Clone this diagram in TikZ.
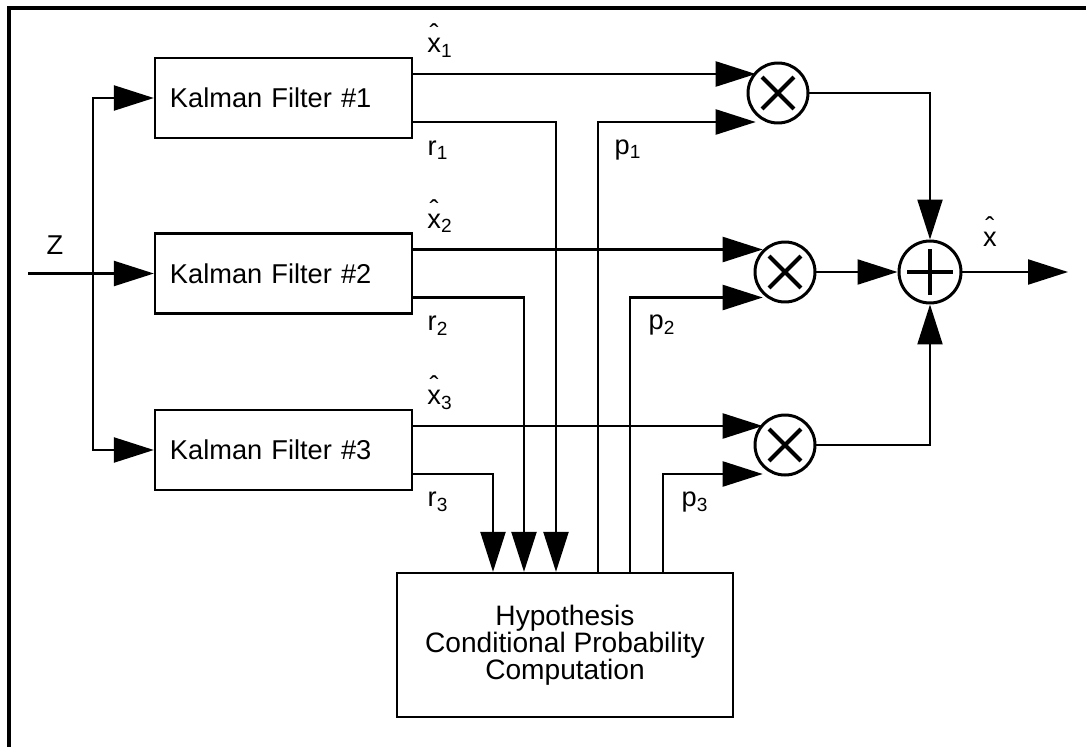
\documentclass[tikz,border=0pt]{standalone}
\usepackage{fontspec}
\setmainfont{Liberation Sans}
\usetikzlibrary{positioning,arrows.meta,calc}
\newcommand{\hatx}{\ooalign{x\cr\hidewidth\raisebox{.34em}{\char"02C6}\hidewidth\cr}}

\begin{document}
\begin{tikzpicture}[x=.2cm,y=-.2cm,
  font=\fontsize{15.5}{15.5}\selectfont,line width=1.3pt,
  arr/.style={-{Triangle[length=.8cm,width=.5cm]}},
  kfbox/.style={draw,rectangle,minimum height=1.6cm,text width=4.54cm,align=left,inner xsep=.3cm},
  hypbox/.style={draw,rectangle,minimum width=6.72cm,minimum height=2.88cm,align=center,
    font=\fontsize{16}{15.5}\selectfont},
  mult/.style={draw,circle,line width=1.7pt,minimum size=1.2cm,inner sep=0pt,
    path picture={\draw[line width=2.3pt]
      ([shift={(45:.45cm)}]path picture bounding box.center) -- ([shift={(225:.45cm)}]path picture bounding box.center)
      ([shift={(135:.45cm)}]path picture bounding box.center) -- ([shift={(315:.45cm)}]path picture bounding box.center);}},
  summ/.style={draw,circle,line width=1.7pt,minimum size=1.24cm,inner sep=0pt,
    path picture={\draw[line width=2.3pt]
      ([xshift=-.46cm]path picture bounding box.center) -- ([xshift=.46cm]path picture bounding box.center)
      ([yshift=-.46cm]path picture bounding box.center) -- ([yshift=.46cm]path picture bounding box.center);}}]
  \useasboundingbox (0,0) rectangle (108.6,74.7);
  % frame
  \draw[line width=1.8pt] (108.6,.8) -- (.9,.8) -- (.9,74.7);

  % filters and probability block
  \node[kfbox] (kf1) at (28.35,9.8) {Kalman Filter \#1};
  \node[kfbox] (kf2) at (28.35,27.35) {Kalman Filter \#2};
  \node[kfbox] (kf3) at (28.35,45) {Kalman Filter \#3};
  \node[hypbox] (hyp) at (56.5,64.5) {Hypothesis\\Conditional Probability\\Computation};

  % multipliers and sum
  \node[mult] (m1) at (77.8,9.3) {};
  \node[mult] (m2) at (78.5,27.2) {};
  \node[mult] (m3) at (78.5,44.5) {};
  \node[summ] (sum) at (93,27.2) {};

  % measurement input
  \coordinate (zin) at (2.8,27.35);
  \coordinate (bus) at (9.3,27.35);
  \node (lz) at (5.5,24.5) {Z};
  \draw[arr] (zin) -- (kf2.west);
  \draw[arr] (bus) |- (kf1.west);
  \draw[arr] (bus) |- (kf3.west);

  % one row per filter
  \foreach \i/\a/\b in {1/-.18/.66,2/-.82/1.3,3/-1.44/1.96}{
    \coordinate (xh\i) at ([yshift=.48cm]kf\i.east);
    \coordinate (r\i) at ([yshift=-.48cm]kf\i.east);
    \coordinate (in\i) at ([xshift=\a cm]hyp.north);
    \coordinate (out\i) at ([xshift=\b cm]hyp.north);
    \draw[arr] (xh\i) -- (m\i.north west |- xh\i);
    \draw[arr] (r\i) -| (in\i);
    \draw[arr] (out\i) |- (m\i.south west |- r\i);
  }

  \node (lx1) at (44,4.8) {\hatx\textsubscript{1}};
  \node (lx2) at (44,22.35) {\hatx\textsubscript{2}};
  \node (lx3) at (44,40) {\hatx\textsubscript{3}};
  \node (lr1) at (43.8,15) {r\textsubscript{1}};
  \node (lr2) at (43.8,32.55) {r\textsubscript{2}};
  \node (lr3) at (43.8,50.2) {r\textsubscript{3}};
  \node (lp1) at (62.8,15) {p\textsubscript{1}};
  \node (lp2) at (66.2,32.55) {p\textsubscript{2}};
  \node (lp3) at (69.5,50.2) {p\textsubscript{3}};

  % combining
  \coordinate (xout) at (106.8,27.2);
  \draw[arr] (m1.east) -| (sum.north);
  \draw[arr] (m2.east) -- (sum.west);
  \draw[arr] (m3.east) -| (sum.south);
  \draw[arr] (sum.east) -- (xout);
  \node (lxo) at (99,23.9) {\hatx};
\end{tikzpicture}
\end{document}
